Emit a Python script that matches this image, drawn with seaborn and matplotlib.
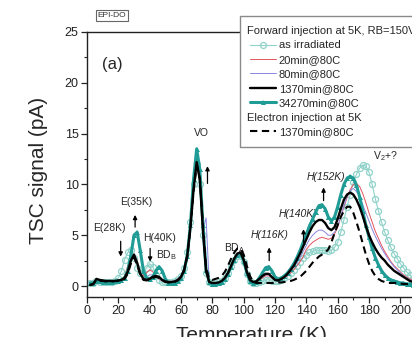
import numpy as np
import pandas as pd
import matplotlib
matplotlib.use("Agg")
import matplotlib.pyplot as plt
from matplotlib.lines import Line2D
import seaborn as sns

# ---------------- data ----------------
temperature_K = list(range(2, 212, 2))

as_irradiated = [0.3, 0.3, 0.5, 0.4, 0.35, 0.35, 0.35, 0.4, 0.5, 0.8,
                 1.5, 2.6, 3.3, 3.5, 2.8, 1.8, 1.3, 1.3, 1.8, 2.2,
                 1.9, 1.1, 0.6, 0.4, 0.35, 0.35, 0.4, 0.5, 0.7, 1.0,
                 1.8, 3.3, 6.3, 10.0, 12.0, 10.0, 5.0, 1.3, 0.4, 0.3,
                 0.3, 0.35, 0.5, 0.8, 1.3, 2.0, 2.6, 3.0, 3.0, 2.4,
                 1.2, 0.5, 0.3, 0.3, 0.4, 0.5, 0.6, 0.6, 0.5, 0.45,
                 0.5, 0.6, 0.8, 1.0, 1.3, 1.6, 2.0, 2.4, 2.8, 3.1,
                 3.3, 3.4, 3.5, 3.5, 3.5, 3.5, 3.4, 3.5, 3.8, 4.3,
                 5.3, 6.5, 7.8, 9.0, 10.2, 11.0, 11.6, 11.9, 11.8, 11.2,
                 10.0, 8.6, 7.4, 6.3, 5.3, 4.5, 3.8, 3.2, 2.7, 2.2,
                 1.8, 1.4, 1.1, 0.8, 0.6]

min20 = [0.2, 0.2, 0.6, 0.5, 0.5, 0.45, 0.45, 0.45, 0.5, 0.55,
         0.6, 1.0, 2.0, 2.8, 2.9, 2.2, 1.3, 1.0, 1.3, 1.6,
         1.4, 1.0, 0.7, 0.5, 0.4, 0.4, 0.45, 0.5, 0.7, 1.0,
         1.7, 3.1, 6.0, 9.6, 12.0, 10.4, 5.4, 1.5, 0.4, 0.3,
         0.3, 0.35, 0.5, 0.8, 1.3, 2.0, 2.7, 3.1, 3.2, 2.5,
         1.3, 0.5, 0.35, 0.4, 0.6, 0.8, 1.0, 1.0, 0.8, 0.55,
         0.5, 0.6, 0.8, 1.0, 1.3, 1.6, 2.0, 2.4, 2.9, 3.6,
         4.0, 4.3, 4.5, 4.7, 4.8, 4.7, 4.6, 4.7, 5.1, 5.8,
         6.8, 7.8, 8.7, 9.5, 10.0, 10.1, 9.8, 9.1, 8.2, 7.2,
         6.3, 5.4, 4.7, 4.0, 3.4, 2.9, 2.4, 2.0, 1.7, 1.4,
         1.1, 0.9, 0.7, 0.6, 0.5]

min80 = [0.2, 0.2, 0.6, 0.5, 0.5, 0.45, 0.45, 0.45, 0.5, 0.55,
         0.6, 0.9, 1.7, 2.7, 3.0, 2.3, 1.2, 0.8, 0.9, 1.1,
         1.1, 1.0, 0.8, 0.5, 0.4, 0.4, 0.45, 0.5, 0.7, 1.0,
         1.7, 3.0, 5.9, 9.5, 12.1, 10.5, 5.5, 6.7, 0.3, 0.3,
         0.3, 0.35, 0.5, 0.8, 1.3, 2.0, 2.7, 3.2, 3.3, 2.6,
         1.4, 0.6, 0.4, 0.45, 0.7, 0.9, 1.1, 1.1, 0.85, 0.6,
         0.55, 0.7, 0.9, 1.2, 1.5, 1.9, 2.3, 2.8, 3.4, 4.0,
         4.6, 5.0, 5.3, 5.5, 5.5, 5.3, 5.0, 5.0, 5.3, 5.9,
         6.8, 7.9, 8.8, 9.4, 9.6, 9.3, 8.8, 8.0, 7.2, 6.4,
         5.6, 4.9, 4.3, 3.7, 3.2, 2.7, 2.3, 1.9, 1.6, 1.3,
         1.0, 0.8, 0.6, 0.5, 0.4]

min1370 = [0.1, 0.2, 0.7, 0.6, 0.55, 0.5, 0.5, 0.5, 0.5, 0.55,
           0.6, 0.8, 1.4, 2.5, 3.1, 2.3, 1.2, 0.7, 0.6, 0.7,
           0.9, 1.0, 0.9, 0.6, 0.45, 0.4, 0.4, 0.45, 0.6, 0.9,
           1.6, 3.0, 5.8, 9.5, 12.2, 10.5, 5.5, 1.5, 0.4, 0.3,
           0.3, 0.35, 0.5, 0.8, 1.3, 2.0, 2.7, 3.2, 3.3, 2.6,
           1.4, 0.6, 0.4, 0.45, 0.7, 1.0, 1.2, 1.2, 0.9, 0.6,
           0.55, 0.7, 0.9, 1.2, 1.6, 2.0, 2.6, 3.2, 3.9, 4.6,
           5.3, 5.9, 6.3, 6.5, 6.5, 6.2, 5.7, 5.5, 5.8, 6.6,
           7.6, 8.5, 9.0, 9.2, 9.0, 8.5, 7.8, 6.9, 5.9, 5.0,
           4.3, 3.7, 3.2, 2.8, 2.5, 2.1, 1.8, 1.5, 1.3, 1.1,
           0.9, 0.7, 0.5, 0.4, 0.3]

min34270 = [0.3, 0.3, 0.5, 0.45, 0.4, 0.4, 0.4, 0.4, 0.45, 0.5,
            0.6, 0.8, 1.5, 3.0, 5.0, 5.3, 3.5, 1.5, 0.8, 0.7,
            0.9, 1.5, 1.9, 1.5, 0.7, 0.3, 0.25, 0.3, 0.5, 0.8,
            1.5, 3.0, 6.0, 10.5, 13.5, 11.5, 6.0, 1.6, 0.4, 0.2,
            0.2, 0.25, 0.4, 0.7, 1.2, 1.9, 2.6, 3.1, 3.2, 2.5,
            1.3, 0.5, 0.3, 0.4, 0.8, 1.3, 1.8, 1.9, 1.5, 0.9,
            0.7, 0.8, 1.0, 1.3, 1.7, 2.2, 2.8, 3.5, 4.3, 5.1,
            5.9, 6.6, 7.3, 7.9, 8.0, 7.6, 6.8, 6.4, 6.8, 7.8,
            9.0, 10.0, 10.6, 10.8, 10.6, 9.9, 8.8, 7.4, 6.0, 4.8,
            3.7, 2.8, 2.1, 1.5, 1.1, 0.8, 0.6, 0.5, 0.4, 0.3,
            0.3, 0.2, 0.2, 0.1, 0.1]

electron_1370 = [0.1, 0.2, 0.6, 0.5, 0.5, 0.45, 0.45, 0.45, 0.5, 0.5,
                 0.55, 0.7, 1.2, 2.2, 2.8, 2.1, 1.1, 0.6, 0.55, 0.6,
                 0.8, 0.9, 0.8, 0.55, 0.4, 0.35, 0.35, 0.4, 0.55, 0.85,
                 1.5, 2.9, 5.6, 9.3, 11.8, 10.6, 6.0, 1.8, 0.7, 0.6,
                 0.7, 0.8, 1.0, 1.4, 2.0, 2.7, 3.3, 3.7, 3.7, 3.1,
                 2.0, 1.0, 0.4, 0.3, 0.3, 0.3, 0.3, 0.3, 0.3, 0.3,
                 0.35, 0.35, 0.4, 0.45, 0.5, 0.6, 0.75, 0.9, 1.2, 1.5,
                 1.9, 2.3, 2.6, 2.9, 3.1, 3.3, 3.6, 4.3, 5.2, 6.0,
                 6.8, 7.4, 7.8, 7.8, 7.2, 6.3, 5.3, 4.2, 3.1, 2.2,
                 1.5, 1.0, 0.7, 0.5, 0.4, 0.3, 0.3, 0.3, 0.3, 0.25,
                 0.2, 0.2, 0.2, 0.15, 0.1]

series_labels = ["as irradiated", "20min@80C", "80min@80C",
                 "1370min@80C", "34270min@80C", "1370min@80C "]
header_forward = "Forward injection at 5K, RB=150V"
header_electron = "Electron injection at 5K"
x_ticks = [0, 20, 40, 60, 80, 100, 120, 140, 160, 180, 200]
y_ticks = [0, 5, 10, 15, 20, 25]

# ---------------- style ----------------
sns.set_theme(style="ticks")
plt.rcParams['font.family'] = ['Liberation Sans', 'DejaVu Sans']
plt.rcParams['mathtext.fontset'] = 'custom'
plt.rcParams['mathtext.rm'] = 'Liberation Sans'
plt.rcParams['mathtext.it'] = 'Liberation Sans:italic'
plt.rcParams['axes.edgecolor'] = '#222222'
plt.rcParams['axes.linewidth'] = 1.0

W, H = 412, 337
fig = plt.figure(figsize=(W / 100, H / 100), dpi=100)
ax_left, ax_right, ax_bot, ax_top = 87, 416, 297, 32
ax = fig.add_axes([ax_left / W, 1 - ax_bot / H, (ax_right - ax_left) / W,
                   (ax_bot - ax_top) / H])

df = pd.DataFrame({"T": temperature_K, "ai": as_irradiated, "m20": min20,
                   "m80": min80, "m1370": min1370, "m34270": min34270,
                   "el": electron_1370})

c_light = "#8fd2c9"
c_teal = "#1f9c95"
c_red = "#e2545e"
c_blue = "#8a86e0"

sns.lineplot(data=df, x="T", y="ai", ax=ax, color=c_light, lw=0.8,
             marker="o", markersize=4.3, markerfacecolor="none",
             markeredgecolor=c_light, markeredgewidth=0.9, estimator=None,
             label=series_labels[0], zorder=2)
sns.lineplot(data=df, x="T", y="m20", ax=ax, color=c_red, lw=0.7,
             estimator=None, label=series_labels[1], zorder=3)
sns.lineplot(data=df, x="T", y="m80", ax=ax, color=c_blue, lw=0.7,
             estimator=None, label=series_labels[2], zorder=3)
sns.lineplot(data=df, x="T", y="m34270", ax=ax, color=c_teal, lw=2.2,
             marker="^", markersize=3.6, markeredgewidth=0,
             markerfacecolor=c_teal, estimator=None,
             label=series_labels[4], zorder=4)
sns.lineplot(data=df, x="T", y="m1370", ax=ax, color="black", lw=1.7,
             estimator=None, label=series_labels[3], zorder=5)
sns.lineplot(data=df, x="T", y="el", ax=ax, color="black", lw=1.5,
             linestyle=(0, (3.5, 2.2)), estimator=None,
             label=series_labels[5], zorder=6)

ax.set_xlim(0, 210)
ax.set_ylim(-1.08, 25)
ax.set_xticks(x_ticks)
ax.set_yticks(y_ticks)
ax.set_xticks(np.arange(10, 211, 20), minor=True)
ax.set_yticks(np.arange(2.5, 25, 5), minor=True)
ax.tick_params(axis='both', which='major', direction='out', length=4,
               width=0.9, labelsize=9, pad=2, colors='#222222')
ax.tick_params(axis='both', which='minor', direction='out', length=2.2,
               width=0.8)
for s in ax.spines.values():
    s.set_visible(True)
    s.set_linewidth(1.0)

ax.set_xlabel("Temperature (K)", fontsize=15)
ax.set_ylabel("TSC signal (pA)", fontsize=15)
ax.xaxis.set_label_coords((251 - ax_left) / (ax_right - ax_left),
                          (ax_bot - 326) / (ax_bot - ax_top))
ax.yaxis.set_label_coords((48 - ax_left) / (ax_right - ax_left),
                          (ax_bot - 170) / (ax_bot - ax_top))

# ---------------- annotations ----------------
fs = 7.5
ax.text(14, 5.7, "E(28K)", fontsize=fs, ha='center', va='center')
ax.text(31.7, 8.3, "E(35K)", fontsize=fs, ha='center', va='center')
ax.text(46, 4.7, "H(40K)", fontsize=fs, ha='center', va='center')
ax.text(51, 3.0, r"BD$_\mathrm{B}$", fontsize=fs, ha='center', va='center')
ax.text(73.3, 15.1, "VO", fontsize=fs, ha='center', va='center')
ax.text(94, 3.7, r"BD$_\mathrm{A}$", fontsize=fs, ha='center', va='center')
ax.text(116.5, 5.0, "H(116K)", fontsize=fs, ha='center', va='center',
        style='italic')
ax.text(134.5, 7.1, "H(140K)", fontsize=fs, ha='center', va='center',
        style='italic')
ax.text(152.6, 10.7, "H(152K)", fontsize=fs, ha='center', va='center',
        style='italic')
ax.text(190.4, 12.8, r"V$_2$+?", fontsize=fs, ha='center', va='center')

arrows = [((21.5, 4.4), (21.5, 2.9)),
          ((30.7, 5.8), (30.7, 7.0)),
          ((40.3, 3.7), (40.3, 2.4)),
          ((76.9, 10.1), (76.9, 11.8)),
          ((116.3, 2.5), (116.3, 3.8)),
          ((138.2, 4.3), (138.2, 5.6)),
          ((151.0, 8.4), (151.0, 9.7))]
for tail, tip in arrows:
    ax.annotate("", xy=tip, xytext=tail,
                arrowprops=dict(arrowstyle='-|>', color='black', lw=0.9,
                                mutation_scale=6, shrinkA=0, shrinkB=0),
                zorder=7)

ax.text((112 - ax_left) / (ax_right - ax_left),
        (ax_bot - 65) / (ax_bot - ax_top), "(a)", transform=ax.transAxes,
        fontsize=12, ha='center', va='center')
fig.text(112 / W, 1 - 15.5 / H, "EPI-DO", fontsize=6, ha='center',
         va='center', color='#333333',
         bbox=dict(boxstyle='square,pad=0.25', fc='white', ec='#666666',
                   lw=0.8))

# ---------------- legend ----------------
h, l = ax.get_legend_handles_labels()
order = [series_labels[i] for i in range(5)]
hmap = dict(zip(l, h))
blank1 = Line2D([], [], linestyle='none')
blank2 = Line2D([], [], linestyle='none')
handles = [blank1] + [hmap[k] for k in order] + [blank2, hmap[series_labels[5]]]
labels = [header_forward] + order + [header_electron, "1370min@80C"]
leg = ax.legend(handles, labels, loc='upper left',
                bbox_to_anchor=(240 / W, 1 - 16 / H),
                bbox_transform=fig.transFigure, fontsize=8, frameon=True,
                fancybox=False, framealpha=1, edgecolor='#8a8a8a',
                borderpad=0.9, borderaxespad=0, labelspacing=0.4,
                handlelength=2.3, handletextpad=0.3, numpoints=1)
leg.get_frame().set_linewidth(1.0)
leg.set_zorder(10)
texts = leg.get_texts()
for i in (0, 6):
    texts[i].set_alpha(0)

fig.canvas.draw()
r = fig.canvas.get_renderer()
hx = leg.legend_handles[1].get_window_extent(r).x0
for idx, txt in [(0, header_forward), (6, header_electron)]:
    bb = texts[idx].get_window_extent(r)
    fig.text(hx / W, bb.y0 / H, txt, fontsize=8, ha='left',
             va='bottom', zorder=11)

fig.savefig("out.png", dpi=100)
